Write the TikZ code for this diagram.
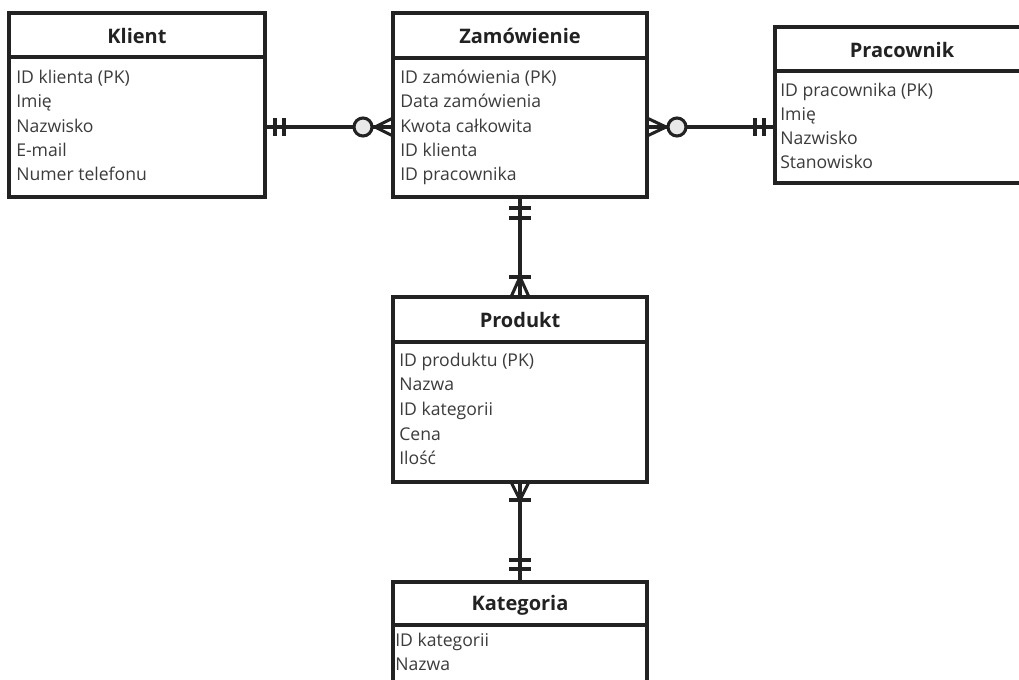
\documentclass[tikz,border=0pt]{standalone}
\usepackage{fontspec}
\setmainfont{Open Sans}
\usetikzlibrary{fit,calc}
\definecolor{ink}{HTML}{222222}
\definecolor{txt}{HTML}{3C3C3C}
\definecolor{circ}{HTML}{E8E8E8}
\begin{document}
\begin{tikzpicture}[x=0.75pt,y=-0.75pt,
  box/.style={draw=ink, line width=2.5pt, inner sep=0pt, fill=white},
  sepline/.style={draw=ink, line width=3.4pt},
  conn/.style={draw=ink, line width=2.3pt},
  zero/.style={draw=ink, line width=2.3pt, fill=circ},
  hdr/.style={font=\fontsize{15}{17}\selectfont\bfseries, text=ink, anchor=base, inner sep=0pt},
  attr/.style={font=\fontsize{13.2}{15}\selectfont, text=txt, anchor=base west, inner sep=0pt}]
\useasboundingbox (0,0) rectangle (1019,679);
\clip (0,0) rectangle (1019,679);
\fill[white] (0,0) rectangle (1019,679);

% ---------- Klient ----------
\coordinate (kA) at (9,13); \coordinate (kB) at (265,197);
\node[box, fit=(kA)(kB)] (klient) {};
\coordinate (kS) at (0,57);
\draw[sepline] (klient.west |- kS) -- (klient.east |- kS);
\node[hdr] (klientT) at (137,43) {Klient};
\node[attr] (k1) at (16,83) {ID klienta (PK)};
\node[attr] (k2) at (16,107) {Imię};
\node[attr] (k3) at (16,132) {Nazwisko};
\node[attr] (k4) at (16,156) {E-mail};
\node[attr] (k5) at (16,180) {Numer telefonu};

% ---------- Zamowienie ----------
\coordinate (zA) at (393,13); \coordinate (zB) at (647,197);
\node[box, fit=(zA)(zB)] (zam) {};
\coordinate (zS) at (0,58);
\draw[sepline] (zam.west |- zS) -- (zam.east |- zS);
\node[hdr] (zamT) at (520,43) {Zamówienie};
\node[attr] (z1) at (400,83) {ID zamówienia (PK)};
\node[attr] (z2) at (400,107) {Data zamówienia};
\node[attr] (z3) at (400,132) {Kwota całkowita};
\node[attr] (z4) at (400,156) {ID klienta};
\node[attr] (z5) at (400,180) {ID pracownika};

% ---------- Pracownik ----------
\coordinate (pA) at (775,27); \coordinate (pB) at (1040,183);
\node[box, fit=(pA)(pB)] (prac) {};
\coordinate (pS) at (0,71);
\draw[sepline] (prac.west |- pS) -- (prac.east |- pS);
\node[hdr] (pracT) at (902,57) {Pracownik};
\node[attr] (p1) at (780,96) {ID pracownika (PK)};
\node[attr] (p2) at (780,120) {Imię};
\node[attr] (p3) at (780,144) {Nazwisko};
\node[attr] (p4) at (780,168) {Stanowisko};

% ---------- Produkt ----------
\coordinate (rA) at (393,297); \coordinate (rB) at (647,482);
\node[box, fit=(rA)(rB)] (prod) {};
\coordinate (rS) at (0,342);
\draw[sepline] (prod.west |- rS) -- (prod.east |- rS);
\node[hdr] (prodT) at (520,327) {Produkt};
\node[attr] (r1) at (399,366) {ID produktu (PK)};
\node[attr] (r2) at (399,390) {Nazwa};
\node[attr] (r3) at (399,415) {ID kategorii};
\node[attr] (r4) at (399,440) {Cena};
\node[attr] (r5) at (399,464) {Ilość};

% ---------- Kategoria ----------
\coordinate (cA) at (393,582); \coordinate (cB) at (647,705);
\node[box, fit=(cA)(cB)] (kat) {};
\coordinate (cS) at (0,625);
\draw[sepline] (kat.west |- cS) -- (kat.east |- cS);
\node[hdr] (katT) at (520,610) {Kategoria};
\node[attr] (c1) at (395,646) {ID kategorii};
\node[attr] (c2) at (395,670) {Nazwa};

% ---------- Klient -- Zamowienie ----------
\coordinate (kzY) at (0,127);
\coordinate (kzO) at (363,127);
\draw[conn] (klient.east |- kzY) -- ($(kzO)+(-9,0)$);
\draw[conn] (275,118) -- (275,136);
\draw[conn] (284,118) -- (284,136);
\draw[conn] (372,127) -- (zam.west |- kzY);
\draw[conn] (375,127) -- (393,118);
\draw[conn] (375,127) -- (393,136);
\draw[zero] (kzO) circle[radius=9];

% ---------- Zamowienie -- Pracownik ----------
\coordinate (zpO) at (677,127);
\draw[conn] (zam.east |- kzY) -- (668,127);
\draw[conn] (647,118) -- (666,127);
\draw[conn] (647,136) -- (666,127);
\draw[conn] (686,127) -- (prac.west |- kzY);
\draw[conn] (755,118) -- (755,136);
\draw[conn] (764,118) -- (764,136);
\draw[zero] (zpO) circle[radius=9];

% ---------- Zamowienie -- Produkt ----------
\coordinate (vX) at (520,0);
\draw[conn] (zam.south -| vX) -- (prod.north -| vX);
\draw[conn] (509,208) -- (531,208);
\draw[conn] (509,218) -- (531,218);
\draw[conn] (509,277) -- (531,277);
\draw[conn] (511,297) -- (520,277) -- (529,297);

% ---------- Produkt -- Kategoria ----------
\draw[conn] (prod.south -| vX) -- (kat.north -| vX);
\draw[conn] (511,482) -- (520,500) -- (529,482);
\draw[conn] (509,500) -- (531,500);
\draw[conn] (509,560) -- (531,560);
\draw[conn] (509,569) -- (531,569);
\end{tikzpicture}
\end{document}
